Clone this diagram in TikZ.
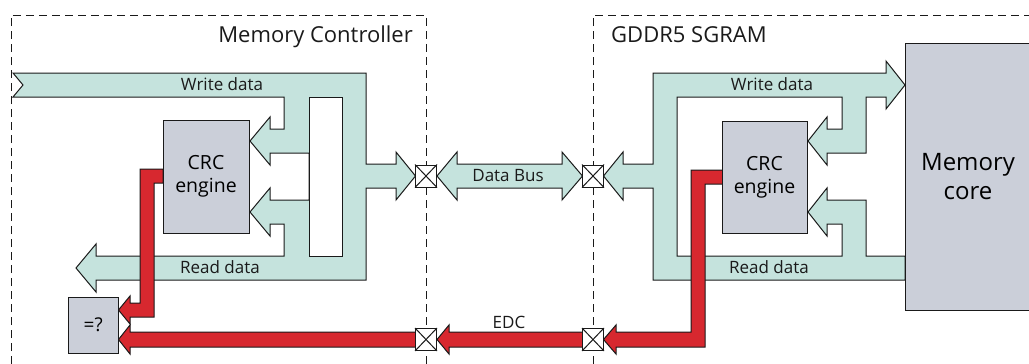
\documentclass[tikz,border=0pt]{standalone}
\usepackage{fontspec}
\setmainfont{Open Sans}
\definecolor{bandgreen}{HTML}{C5E3DD}
\definecolor{boxgray}{HTML}{CBCFD9}
\definecolor{edcred}{HTML}{D7282F}
\definecolor{ink}{HTML}{1A1A1A}
\begin{document}
\begin{tikzpicture}[x=1pt,y=-1pt,
  band/.style={fill=bandgreen,draw=ink,line width=1pt,line join=miter},
  redband/.style={fill=edcred,draw=ink,line width=1pt,line join=miter},
  blk/.style={draw=ink,fill=boxgray,line width=1pt,inner sep=0pt,align=center},
  port/.style={draw=ink,fill=white,line width=1pt,minimum width=21pt,minimum height=22pt,inner sep=0pt},
  lbl/.style={font=\fontsize{17}{20}\selectfont,inner sep=0pt,text=ink},
  ttl/.style={font=\fontsize{22}{26}\selectfont,inner sep=0pt,text=ink},
  region/.style={dash pattern=on 8pt off 5pt,line width=0.9pt,draw=ink}]
\useasboundingbox (0,0) rectangle (1029,364);

% regions
\draw[region] (11,364) -- (11,15) -- (426,15) -- (426,364);
\draw[region] (593,364) -- (593,15) -- (1029,15);
\node[ttl,anchor=base east] (mctitle) at (413,42) {Memory Controller};
\node[ttl,anchor=base west] (gtitle) at (611,42) {GDDR5 SGRAM};

% left green bus structure
\draw[band] (13,73) -- (366,73) -- (366,164) -- (396,164) -- (396,152) -- (415.5,176)
  -- (396,200) -- (396,188) -- (366,188) -- (366,280) -- (96,280) -- (96,292)
  -- (76,268) -- (96,244) -- (96,256) -- (284,256) -- (284,224) -- (270,224)
  -- (270,236) -- (250,212) -- (270,188) -- (270,200) -- (309,200) -- (309,153)
  -- (270,153) -- (270,165) -- (250,141) -- (270,117) -- (270,129) -- (284,129)
  -- (284,97) -- (13,97) -- (23,85) -- cycle;
\draw[draw=ink,line width=1pt,fill=white] (309,97) rectangle (342,256);

% right green bus structure
\draw[band] (653,73) -- (886,73) -- (886,61) -- (905,85) -- (886,109) -- (886,97)
  -- (866,97) -- (866,153) -- (827,153) -- (827,165) -- (808,141) -- (827,117)
  -- (827,129) -- (842,129) -- (842,97) -- (677,97) -- (677,256) -- (842,256)
  -- (842,224) -- (827,224) -- (827,236) -- (808,212) -- (827,188) -- (827,200)
  -- (866,200) -- (866,256) -- (905,256) -- (905,280) -- (653,280) -- (653,188)
  -- (623,188) -- (623,200) -- (603.5,176) -- (623,152) -- (623,164) -- (653,164) -- cycle;

% data bus
\draw[band] (437,176) -- (457,152) -- (457,164) -- (562,164) -- (562,152) -- (582.5,176)
  -- (562,200) -- (562,188) -- (457,188) -- (457,200) -- cycle;
\node[lbl,anchor=base] (dbus) at (508,181) {Data Bus};

% red EDC paths
\draw[redband] (163,169) -- (140,169) -- (140,303) -- (130,303) -- (130,296) -- (118.5,310)
  -- (130,324) -- (130,317) -- (154,317) -- (154,183) -- (163,183) -- cycle;
\draw[redband] (416,332) -- (130,332) -- (130,325) -- (118.5,339.5) -- (130,354) -- (130,347) -- (416,347) -- cycle;
\draw[redband] (437,339.5) -- (449,325) -- (449,332) -- (582.5,332) -- (582.5,347) -- (449,347) -- (449,354) -- cycle;
\draw[redband] (723,170) -- (691,170) -- (691,332) -- (616,332) -- (616,325) -- (603.5,339.5)
  -- (616,354) -- (616,347) -- (705,347) -- (705,184) -- (723,184) -- cycle;
\node[lbl,anchor=base] (edc) at (509,328) {EDC};

% blocks
\node[blk,minimum width=86pt,minimum height=113pt,font=\fontsize{19.5}{23}\selectfont] (crcL) at (206,176.5) {CRC\\engine};
\node[blk,minimum width=85pt,minimum height=112pt,font=\fontsize{19.5}{23}\selectfont] (crcR) at (764.5,177) {CRC\\engine};
\node[blk,minimum width=126pt,minimum height=267pt,font=\fontsize{24}{29}\selectfont] (core) at (968,176.5) {Memory\\core};
\node[blk,minimum width=50.5pt,minimum height=56pt,font=\fontsize{19}{20}\selectfont] (cmp) at (93.25,325) {=?};

% labels on buses
\node[lbl,anchor=base] (wdL) at (222,90) {Write data};
\node[lbl,anchor=base] (rdL) at (220,273) {Read data};
\node[lbl,anchor=base] (wdR) at (772,90) {Write data};
\node[lbl,anchor=base] (rdR) at (769,273) {Read data};

% ports
\foreach \n/\p in {pLt/{(426,176)},pRt/{(593,176)},pLb/{(426,339.5)},pRb/{(593,339.5)}}{
  \node[port] (\n) at \p {};
  \draw[draw=ink,line width=1pt] (\n.north west) -- (\n.south east) (\n.north east) -- (\n.south west);
}
\end{tikzpicture}
\end{document}
